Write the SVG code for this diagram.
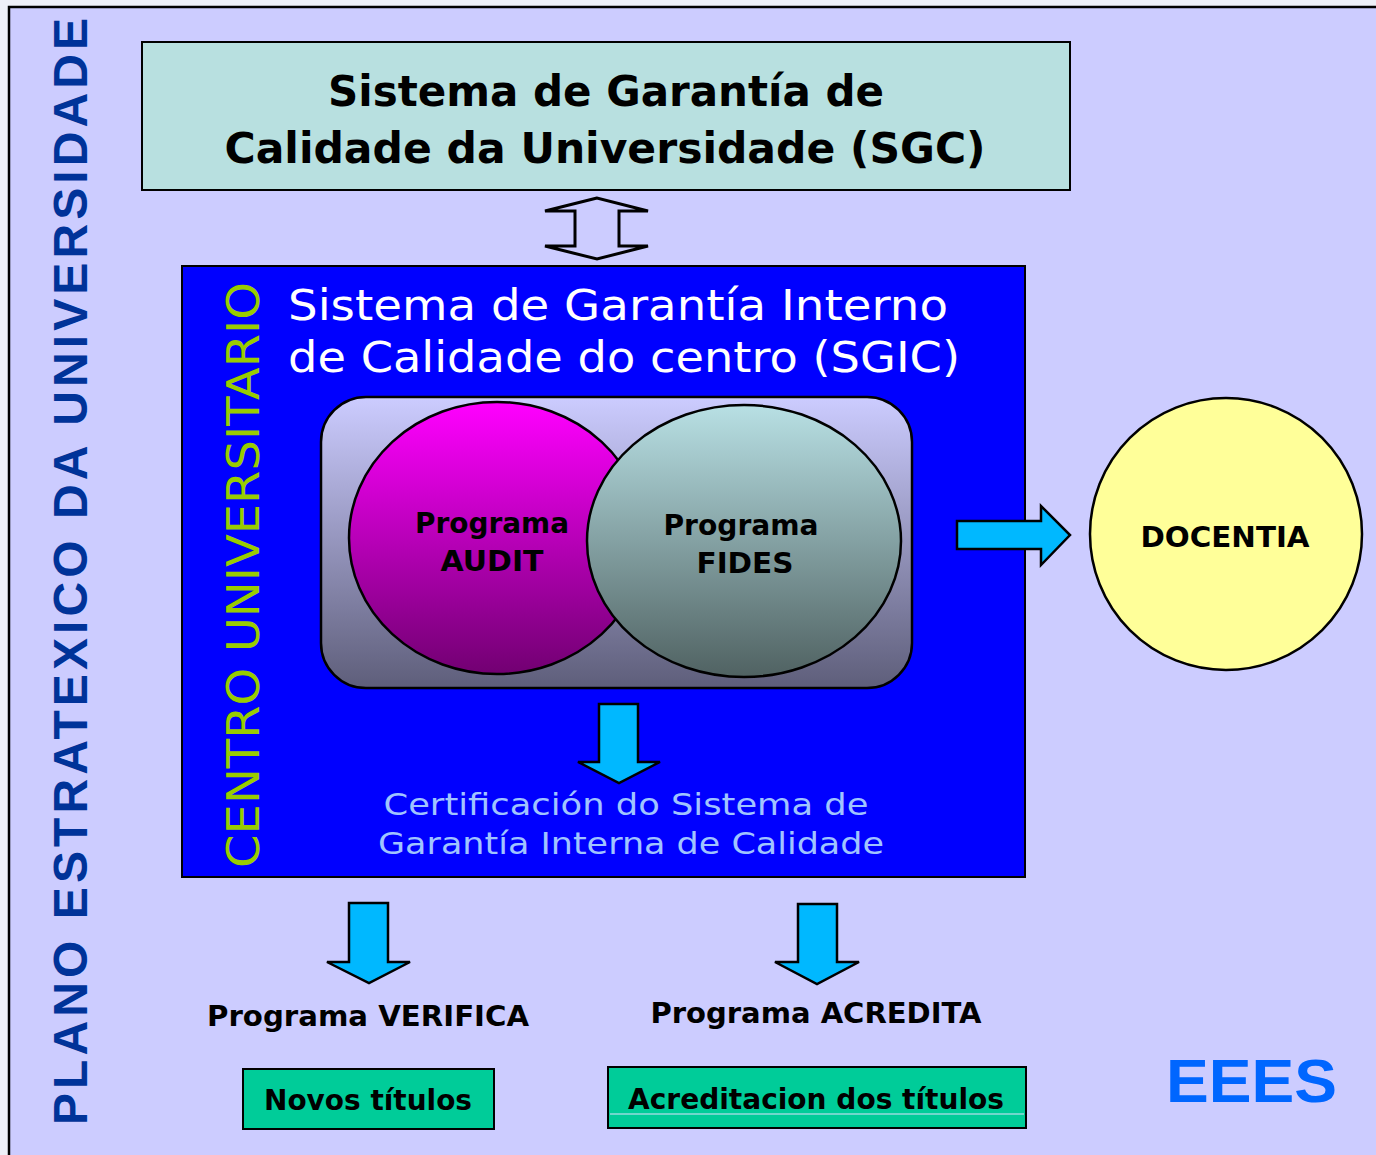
<svg xmlns="http://www.w3.org/2000/svg" width="1376" height="1155" viewBox="0 0 1376 1155">
<defs>
<linearGradient id="gRound" x1="0" y1="0" x2="0" y2="1"><stop offset="0" stop-color="#ccccff"/><stop offset="1" stop-color="#5e5e7a"/></linearGradient>
<linearGradient id="gMag" x1="0" y1="0" x2="0" y2="1"><stop offset="0" stop-color="#ff00ff"/><stop offset="1" stop-color="#720072"/></linearGradient>
<linearGradient id="gFid" x1="0" y1="0" x2="0" y2="1"><stop offset="0" stop-color="#b8e0e4"/><stop offset="1" stop-color="#506262"/></linearGradient>
<style>
.b{font-family:"DejaVu Sans",Verdana,sans-serif;font-weight:bold;fill:#000}
.n{font-family:"DejaVu Sans",Verdana,sans-serif;font-weight:normal}
.arrow{fill:#00b8ff;stroke:#000;stroke-width:2.5;stroke-linejoin:miter}
.box{stroke:#000;stroke-width:2}
</style>
</defs>
<rect x="0" y="0" width="1376" height="1155" fill="#eef0f8"/>
<rect x="9" y="7" width="1380" height="1160" fill="#ccccff" stroke="#000" stroke-width="2.5"/>

<g id="plano">
<text transform="translate(87,1125) rotate(-90)" font-family="Liberation Sans,Arial,sans-serif" font-weight="bold" font-size="48" fill="#003399" textLength="1107" lengthAdjust="spacing">PLANO ESTRATEXICO DA UNIVERSIDADE</text>
</g>

<g id="sgc">
<rect class="box" x="142" y="42" width="928" height="148" fill="#b8e0e0"/>
<text class="b" x="606" y="106" font-size="42" text-anchor="middle" textLength="556" lengthAdjust="spacingAndGlyphs">Sistema de Garantía de</text>
<text class="b" x="605" y="163" font-size="42" text-anchor="middle" textLength="761" lengthAdjust="spacingAndGlyphs">Calidade da Universidade (SGC)</text>
</g>

<g id="sgic">
<rect class="box" x="182" y="266" width="843" height="611" fill="#0000ff"/>
<text class="n" x="288" y="320" font-size="42" fill="#ffffff" textLength="660" lengthAdjust="spacingAndGlyphs">Sistema de Garantía Interno</text>
<text class="n" x="288" y="372" font-size="42" fill="#ffffff" textLength="672" lengthAdjust="spacingAndGlyphs">de Calidade do centro (SGIC)</text>
<text class="n" transform="translate(259,868) rotate(-90)" font-size="44" fill="#99cc00" textLength="586" lengthAdjust="spacingAndGlyphs">CENTRO UNIVERSITARIO</text>
<text class="n" x="626" y="815" font-size="30" fill="#a0c4ff" text-anchor="middle" textLength="485" lengthAdjust="spacingAndGlyphs">Certificación do Sistema de</text>
<text class="n" x="631" y="854" font-size="30" fill="#a0c4ff" text-anchor="middle" textLength="506" lengthAdjust="spacingAndGlyphs">Garantía Interna de Calidade</text>
</g>

<g id="programs">
<rect x="321" y="397" width="591" height="291" rx="45" ry="45" fill="url(#gRound)" stroke="#000" stroke-width="2.5"/>
</g>

<g id="audit">
<ellipse cx="497" cy="538" rx="148" ry="136" fill="url(#gMag)" stroke="#000" stroke-width="2.5"/>
<text class="b" x="492" y="533" font-size="28" text-anchor="middle" textLength="154" lengthAdjust="spacingAndGlyphs">Programa</text>
<text class="b" x="492" y="571" font-size="28" text-anchor="middle" textLength="103" lengthAdjust="spacingAndGlyphs">AUDIT</text>
</g>

<g id="fides">
<ellipse cx="744" cy="541" rx="157" ry="136" fill="url(#gFid)" stroke="#000" stroke-width="2.5"/>
<text class="b" x="741" y="535" font-size="28" text-anchor="middle" textLength="155" lengthAdjust="spacingAndGlyphs">Programa</text>
<text class="b" x="745" y="573" font-size="28" text-anchor="middle" textLength="97" lengthAdjust="spacingAndGlyphs">FIDES</text>
</g>

<g id="docentia">
<ellipse cx="1226" cy="534" rx="136" ry="136" fill="#ffff99" stroke="#000" stroke-width="2.5"/>
<text class="b" x="1225" y="547" font-size="28" text-anchor="middle" textLength="169" lengthAdjust="spacingAndGlyphs">DOCENTIA</text>
</g>

<g id="verifica">
<text class="b" x="368" y="1026" font-size="28" text-anchor="middle" textLength="322" lengthAdjust="spacingAndGlyphs">Programa VERIFICA</text>
</g>

<g id="acredita">
<text class="b" x="816" y="1023" font-size="28" text-anchor="middle" textLength="331" lengthAdjust="spacingAndGlyphs">Programa ACREDITA</text>
</g>

<g id="novos">
<rect class="box" x="243" y="1069" width="251" height="60" fill="#00cc99"/>
<text class="b" x="368" y="1110" font-size="28" text-anchor="middle" textLength="208" lengthAdjust="spacingAndGlyphs">Novos títulos</text>
</g>

<g id="acreditacion">
<rect class="box" x="608" y="1067" width="418" height="61" fill="#00cc99"/>
<line x1="610" y1="1114" x2="1024" y2="1114" stroke="#e0e0ff" stroke-width="1"/>
<text class="b" x="816" y="1109" font-size="28" text-anchor="middle" textLength="376" lengthAdjust="spacingAndGlyphs">Acreditacion dos títulos</text>
</g>

<g id="eees">
<text x="1166" y="1102" font-family="Liberation Sans,Arial,sans-serif" font-weight="bold" font-size="61" fill="#0066ff" textLength="171" lengthAdjust="spacingAndGlyphs">EEES</text>
</g>

<g id="connectors">
<path d="M597,198 L545,211 L575,211 L575,246 L545,246 L597,259 L648,246 L619,246 L619,211 L648,211 Z" fill="#ccccff" stroke="#000" stroke-width="3" stroke-linejoin="miter"/>
<path class="arrow" d="M599,704 L638,704 L638,762 L660,762 L619,783 L578,762 L599,762 Z"/>
<path class="arrow" d="M957,521 L1041,521 L1041,506 L1070,535 L1041,565 L1041,549 L957,549 Z"/>
<path class="arrow" d="M349,903 L388,903 L388,962 L410,962 L369,983 L327,962 L349,962 Z"/>
<path class="arrow" d="M798,904 L837,904 L837,962 L859,962 L817,984 L775,962 L798,962 Z"/>
</g>
</svg>
